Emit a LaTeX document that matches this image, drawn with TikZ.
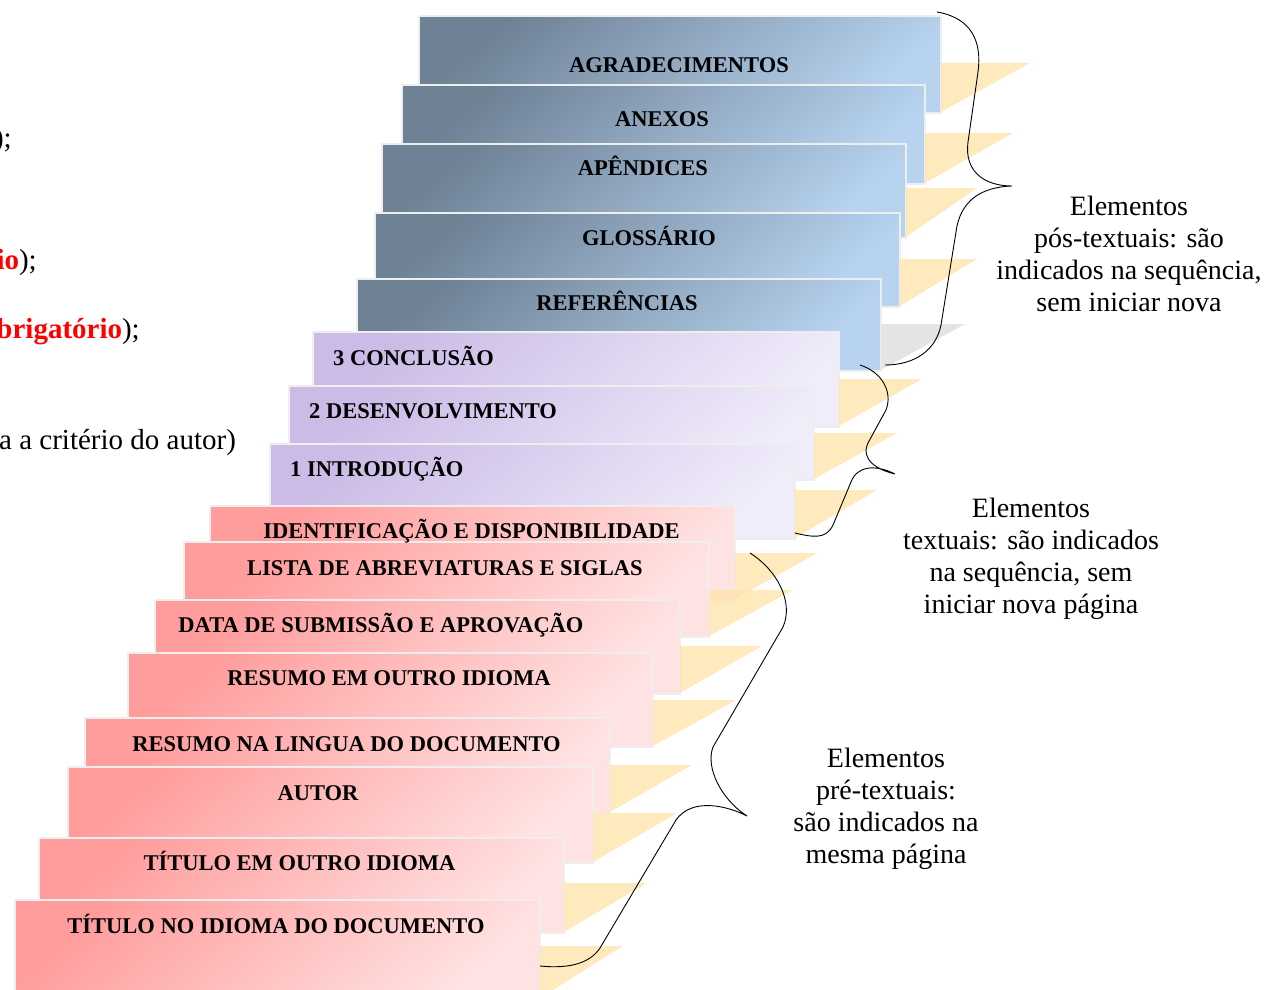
\documentclass[tikz,border=0pt]{standalone}
\usepackage{fontspec}
\setmainfont{Liberation Serif}
\definecolor{bluedark}{HTML}{6E8195}
\definecolor{bluelight}{HTML}{B7D3EF}
\definecolor{purdark}{HTML}{CBBBE6}
\definecolor{purlight}{HTML}{F0ECFA}
\definecolor{pinkdark}{HTML}{FF9C9C}
\definecolor{pinklight}{HTML}{FFE3E3}
\definecolor{shadowy}{HTML}{FFE3A8}
\definecolor{shadowg}{HTML}{E4E4E4}
\definecolor{edgecol}{HTML}{EEEEEE}
\definecolor{redtxt}{HTML}{FF0000}
\newcommand\stair[9]{%
  \node[#2, minimum width={#5-#3}, minimum height={#6-#4}] (#1) at (#3,#4) {};
  \fill[#9] (#5+1,#7) -- (#8,#7) -- (#5+1,#6) -- cycle;
}
\begin{document}
\begin{tikzpicture}[x=1pt,y=-1pt,
  boxbase/.style={draw=edgecol, line width=1.6pt, anchor=north west, inner sep=0pt},
  bluebox/.style={boxbase, top color=bluedark, bottom color=bluelight, shading angle=40},
  purbox/.style={boxbase, top color=purdark, bottom color=purlight, shading angle=40},
  pinkbox/.style={boxbase, top color=pinkdark, bottom color=pinklight, shading angle=40},
  shady/.style={fill=shadowy, fill opacity=0.75},
  shadg/.style={fill=shadowg},
  lbl/.style={font=\fontsize{22.5}{24}\selectfont\bfseries, anchor=base, inner sep=0pt},
  lblw/.style={lbl, anchor=base west},
  side/.style={font=\fontsize{28}{32}\selectfont, align=center, inner sep=0pt},
  frag/.style={font=\fontsize{29}{32}\selectfont, anchor=base east, inner sep=0pt},
  brace/.style={draw=black, line width=0.9pt}
]
\useasboundingbox (0,0) rectangle (1267,990);
\begin{scope}
\clip (0,0) rectangle (1267,990);
% left fragments
\node[frag] (f1) at (12,147) {);};
\node[frag] (f2) at (37,269) {{\color{redtxt}\bfseries io});};
\node[frag] (f3) at (140,338) {{\color{redtxt}\bfseries brigatório});};
\node[frag, anchor=base west] (f4) at (-1,449) {a a critério do autor)};
% post-textual
\stair{b1}{bluebox}{418}{15}{940}{112}{63}{1030}{shady}
\stair{b2}{bluebox}{401}{84}{924}{183}{133}{1013}{shady}
\stair{b3}{bluebox}{381}{143}{905}{237}{188}{977}{shady}
\stair{b4}{bluebox}{374}{212}{899}{306}{259}{977}{shady}
\stair{b5}{bluebox}{356}{278}{880}{370}{324}{965}{shadg}
% textual
\stair{b6}{purbox}{312}{331}{838}{426}{379}{922}{shady}
\stair{b7}{purbox}{288}{385}{813}{479}{433}{897}{shady}
\stair{b8}{purbox}{269}{443}{794}{538}{490}{877}{shady}
% pre-textual
\stair{b9}{pinkbox}{209}{505}{734}{599}{553}{817}{shady}
\stair{b10}{pinkbox}{183}{541}{708}{636}{590}{793}{shady}
\stair{b11}{pinkbox}{154}{599}{679}{693}{646}{762}{shady}
\stair{b12}{pinkbox}{127}{652}{652}{746}{700}{736}{shady}
\stair{b13}{pinkbox}{84}{717}{609}{812}{765}{692}{shady}
\stair{b14}{pinkbox}{67}{766}{592}{862}{813}{677}{shady}
\stair{b15}{pinkbox}{38}{837}{563}{932}{883}{647}{shady}
\stair{b16}{pinkbox}{14}{899}{539}{998}{946}{623}{shady}
% labels
\node[lbl] (t1) at (679,73) {AGRADECIMENTOS};
\node[lbl] (t2) at (662,126) {ANEXOS};
\node[lbl] (t3) at (643,175) {APÊNDICES};
\node[lbl] (t4) at (649,245) {GLOSSÁRIO};
\node[lbl] (t5) at (617,310) {REFERÊNCIAS};
\node[lblw] (t6) at (333,365) {3 CONCLUSÃO};
\node[lblw] (t7) at (309,418) {2 DESENVOLVIMENTO};
\node[lblw] (t8) at (290,476) {1 INTRODUÇÃO};
\node[lbl] (t9) at (471.5,538) {IDENTIFICAÇÃO E DISPONIBILIDADE};
\node[lbl] (t10) at (445,575) {LISTA DE ABREVIATURAS E SIGLAS};
\node[lbl] (t11) at (381,632) {DATA DE SUBMISSÃO E APROVAÇÃO};
\node[lbl] (t12) at (389,685) {RESUMO EM OUTRO IDIOMA};
\node[lbl] (t13) at (346.5,751) {RESUMO NA LINGUA DO DOCUMENTO};
\node[lbl] (t14) at (318,800) {AUTOR};
\node[lbl] (t15) at (299.5,870) {TÍTULO EM OUTRO IDIOMA};
\node[lbl] (t16) at (276,933) {TÍTULO NO IDIOMA DO DOCUMENTO};
% braces
\draw[brace] (937,12) .. controls (972,18) and (982,42) .. (978,72) -- (968,142)
  .. controls (964,172) and (985,186) .. (1012,186)
  .. controls (982,187) and (960,200) .. (956,232) -- (941,325)
  .. controls (936,350) and (915,365) .. (885,365);
\draw[brace] (860,365) .. controls (882,372) and (893,392) .. (886,410) -- (868,443)
  .. controls (860,460) and (878,470) .. (895,474)
  .. controls (875,464) and (857,466) .. (851,482) -- (833,525)
  .. controls (826,540) and (812,537) .. (795,533);
\draw[brace] (750,553) .. controls (777,570) and (794,602) .. (783,627) -- (713,747)
  .. controls (705,768) and (722,800) .. (747,816)
  .. controls (728,806) and (692,797) .. (676,820) -- (600,948)
  .. controls (590,963) and (570,969) .. (540,966);
% side texts
\node[side] (s1) at (1129,254) {Elementos\\pós-textuais: são\\indicados na sequência,\\sem iniciar nova};
\node[side] (s2) at (1031,559) {Elementos\\textuais: são indicados\\na sequência, sem\\iniciar nova página};
\node[side] (s3) at (886,809) {Elementos\\pré-textuais:\\são indicados na\\mesma página};
\end{scope}
\end{tikzpicture}
\end{document}
